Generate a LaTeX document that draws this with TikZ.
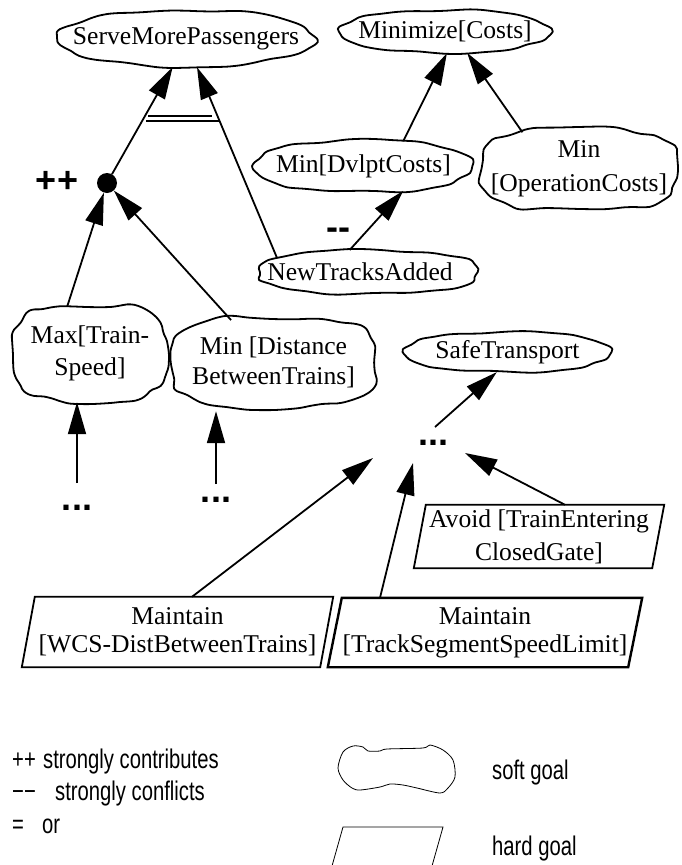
\documentclass[tikz,border=0pt]{standalone}
\usepackage{fontspec}
\setmainfont{Liberation Serif}
\newfontfamily\legendfont[FakeStretch=0.75]{Liberation Sans}
\newfontfamily\markfont{Liberation Sans}
\usetikzlibrary{arrows.meta,shapes.geometric,calc}

\tikzset{
  goaltext/.style={font=\fontsize{25.6}{#1}\selectfont, align=center},
  softgoal/.style={ellipse, inner sep=0pt, goaltext=29},
  hardgoal/.style={rectangle, inner sep=0pt, goaltext=28},
  cloudline/.style={line width=1.8pt, line join=round},
  boxline/.style={line join=miter},
  arr/.style={line width=1.8pt, -{Triangle[length=32pt,width=18pt]}},
  orline/.style={line width=1.6pt},
  marktext/.style={font=\markfont\bfseries\fontsize{36}{36}\selectfont, inner sep=0pt},
  legendtext/.style={font=\legendfont\fontsize{27}{27}\selectfont, inner sep=0pt, anchor=base west},
  legendline/.style={line width=0.8pt},
}

% wobbly outline of a soft goal around a named node:
% node, half width, half height, squareness exponent, phase
\newcommand\cloudoutline[5]{%
  \draw[cloudline, shift={(#1.center)}]
    plot[smooth cycle, samples=60, domain=0:354, variable=\t]
    ({#2*cos(\t)*(abs(cos(\t))+0.001)^(#4-1)*(1+0.02*sin(6*\t+#5)+0.012*sin(13*\t+2*#5))},
     {#3*sin(\t)*(abs(sin(\t))+0.001)^(#4-1)*(1+0.04*sin(5*\t+#5)+0.025*sin(11*\t+3*#5))});
}
% slanted box of a hard goal around a named node: node, slant, line width
\newcommand\hardoutline[3]{%
  \draw[boxline, line width=#3]
    ($(#1.north west)+(#2,0)$) -- ($(#1.north east)+(#2,0)$) --
    ($(#1.south east)-(#2,0)$) -- ($(#1.south west)-(#2,0)$) -- cycle;
}

\begin{document}
\begin{tikzpicture}[x=1pt, y=-1pt]
\useasboundingbox (0,0) rectangle (681,865);
\fill[white] (0,0) rectangle (681,865);

% soft goals
\node[softgoal, minimum width=258pt, minimum height=57pt] (smp) at (186,38.5) {ServeMorePassengers};
\node[softgoal, minimum width=210pt, minimum height=43pt] (mc) at (445,31.5) {Minimize[Costs]};
\node[softgoal, minimum width=217pt, minimum height=52pt] (dc) at (363.5,166) {Min[DvlptCosts]};
\node[softgoal, goaltext=34, minimum width=198pt, minimum height=82pt] (oc) at (579,169) {Min\\{}[OperationCosts]};
\node[softgoal, minimum width=222pt, minimum height=44pt] (nta) at (368,272) {\hspace*{-16pt}NewTracksAdded};
\node[softgoal, goaltext=32, minimum width=154pt, minimum height=97pt] (maxs) at (90,353.5) {Max[Train-\\Speed]};
\node[softgoal, goaltext=30, minimum width=207pt, minimum height=91pt] (mind) at (273.5,362.5) {Min [Distance\\BetweenTrains]};
\node[softgoal, minimum width=205pt, minimum height=40pt] (st) at (507.5,352) {SafeTransport};

\cloudoutline{smp}{129}{28.5}{0.95}{20}
\cloudoutline{mc}{105}{21.5}{0.9}{70}
\cloudoutline{dc}{108.5}{26}{0.85}{130}
\cloudoutline{oc}{99}{41}{0.65}{200}
\cloudoutline{nta}{111}{22}{0.85}{250}
\cloudoutline{maxs}{77}{48.5}{0.6}{40}
\cloudoutline{mind}{103.5}{45.5}{0.65}{300}
\cloudoutline{st}{102.5}{20}{0.85}{100}

% hard goals
\node[hardgoal, minimum width=298pt, minimum height=70pt] (wcs) at (177.5,632) {Maintain\\{}[WCS-DistBetweenTrains]};
\node[hardgoal, minimum width=300pt, minimum height=69pt] (tsl) at (485,632.5) {Maintain\\{}[TrackSegmentSpeedLimit]};
\node[hardgoal, goaltext=33, minimum width=238pt, minimum height=63pt] (avoid) at (539,536.5) {Avoid [TrainEntering\\ClosedGate]};
\hardoutline{wcs}{6.5}{1.8pt}
\hardoutline{tsl}{7}{2.4pt}
\hardoutline{avoid}{6}{1.8pt}

% and-node, contribution marks and elided subgoals
\node[circle, fill, inner sep=0pt, minimum size=20pt] (dot) at (107,183) {};
\node[marktext] (pp) at (57,182) {++};
\node[marktext] (mm) at (338,233.5) {-{}-};
\node[marktext] (d1) at (77,508) {...};
\node[marktext] (d2) at (216,500) {...};
\node[marktext] (d3) at (433,443) {...};

% refinement links
\draw[arr] (dot) -- (smp.245);
\draw[arr] (nta.171) -- (smp.291);
\draw[arr] (dc.32) -- (mc.275);
\draw[arr] (oc.147) -- (mc.316);
\draw[arr] (nta.130) -- (dc.328);
\draw[arr] (maxs.116) -- (dot);
\draw[arr] (mind.135) -- (dot);
\draw[arr] ($(d1.north)+(0,-22)$) -- (d1.north |- maxs.south);
\draw[arr, shorten >=3pt] ($(d2.north)+(0,-13)$) -- (d2.north |- mind.south);
\draw[arr] ($(d3)+(2,-16)$) -- (st.242);
\draw[arr] ($(avoid.north)+(26,0)$) -- ($(d3)+(32,10)$);
\draw[arr] ($(wcs.north)+(14.5,0)$) -- ($(d3)+(-60,15)$);
\draw[arr] ($(tsl.north)+(-105,0)$) -- ($(d3)+(-20,20)$);

% "or" mark across the two links into ServeMorePassengers
\draw[orline] (148,116) -- (212,116);
\draw[orline] (146,121) -- (220,121);

% legend
\node[legendtext] (l1) at (12,768) {\makebox[31pt][l]{++}strongly contributes};
\node[legendtext] (l2) at (12,800) {\makebox[43pt][l]{−−}strongly conflicts};
\node[legendtext] (l3) at (12,833) {\makebox[30pt][l]{=}or};
\node[legendtext] (l4) at (492,779) {soft goal};
\node[legendtext] (l5) at (492,855) {hard goal};
\draw[legendline] plot[smooth cycle] coordinates {(338,768) (343,752) (353,746) (363,747) (368,751) (380,751) (387,749) (423,748) (430,745) (443,750) (453,760) (455,777) (448,788) (440,793) (417,788) (403,785) (390,784) (380,787) (360,790) (352,788) (343,780)};
\draw[legendline] (332,866) -- (343,827) -- (443,827) -- (432,866);
\end{tikzpicture}
\end{document}
